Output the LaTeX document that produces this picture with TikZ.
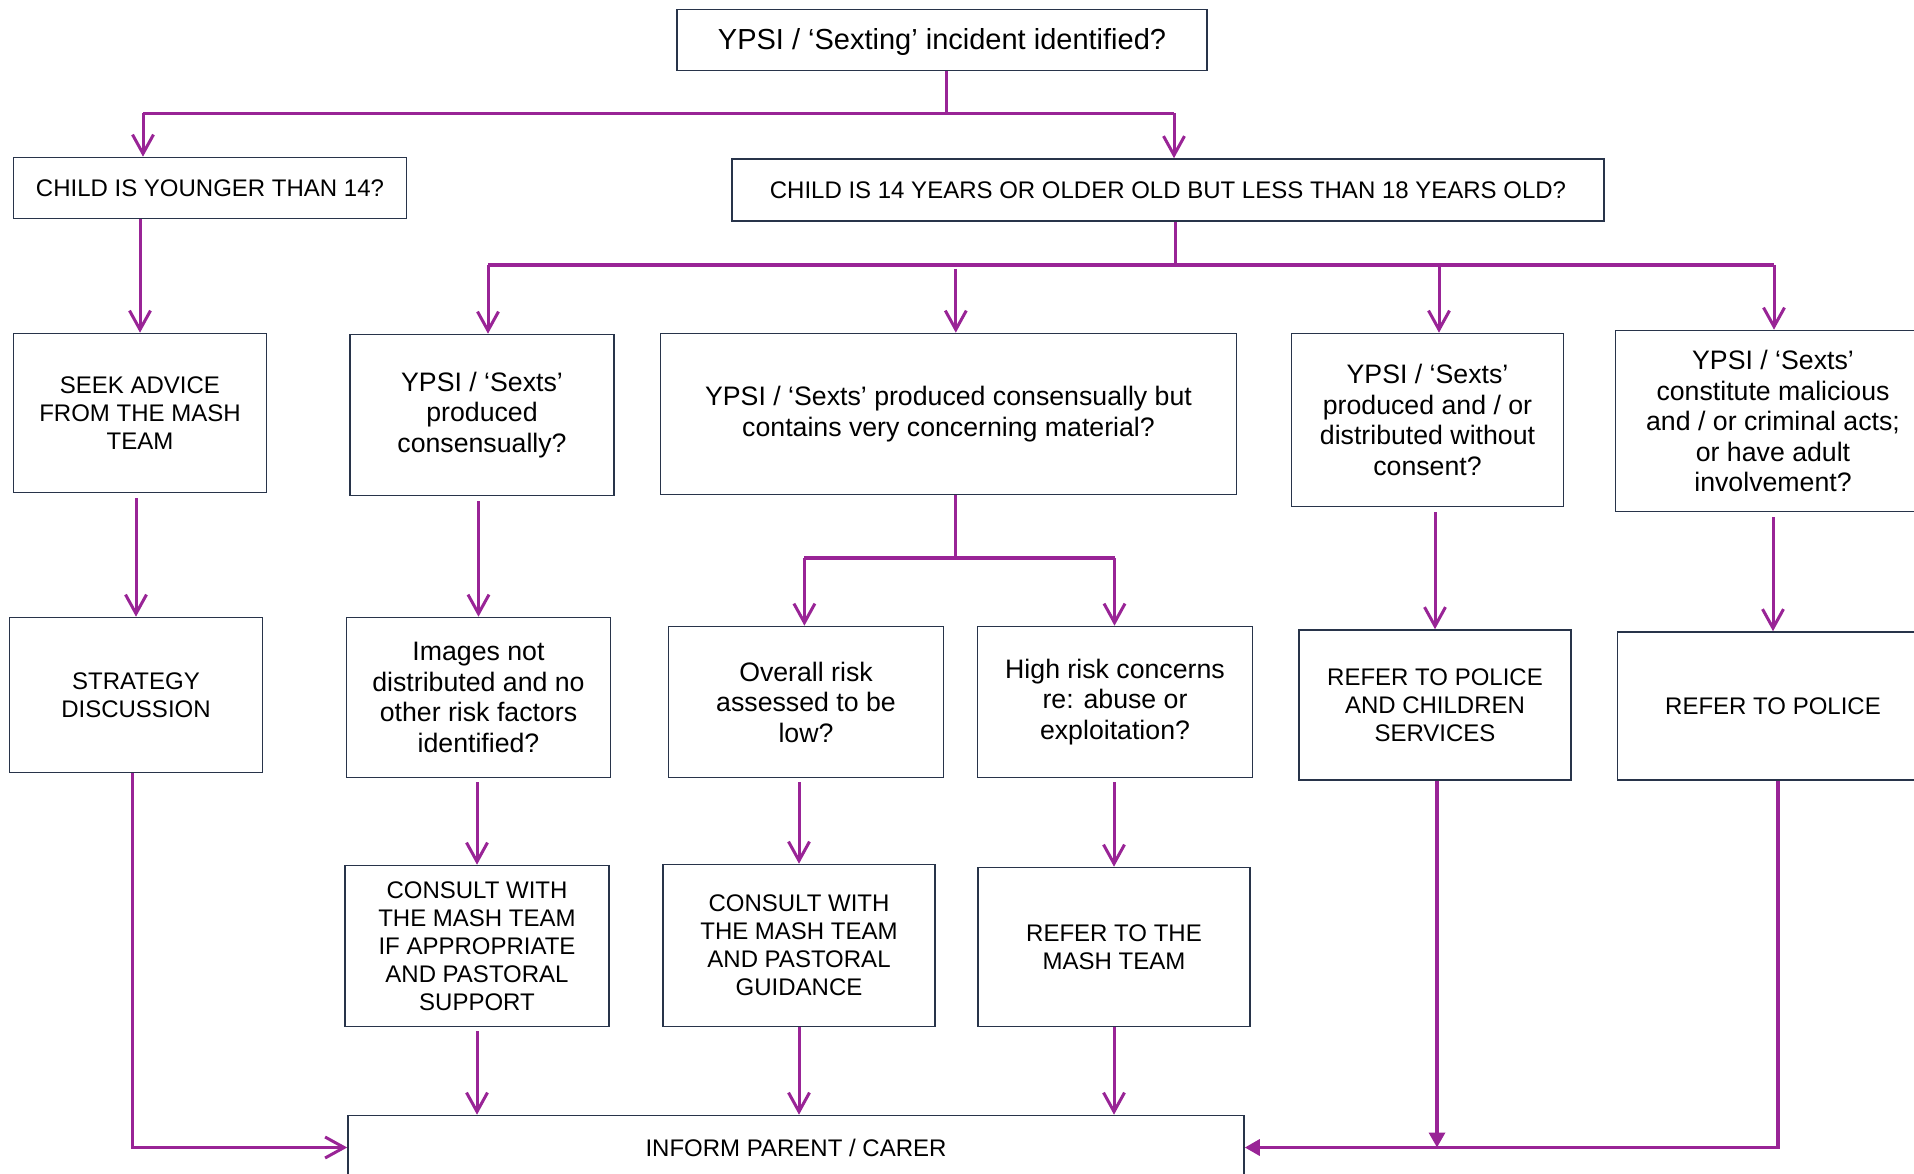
\documentclass[tikz,border=0pt]{standalone}
\usepackage{fontspec}
\setmainfont{Liberation Sans}
\usetikzlibrary{arrows.meta}
\definecolor{flowpurple}{RGB}{153,36,150}
\definecolor{boxedge}{RGB}{40,52,74}

\begin{document}
\begin{tikzpicture}[x=1pt,y=-1pt,
    box/.style={draw=boxedge, line width=1.6pt, align=center, inner sep=0pt,
      font=\fontsize{26.7}{30.5}\selectfont,
      execute at begin node={\rule{0pt}{26pt}}},
    capsbox/.style={draw=boxedge, line width=1.6pt, align=center, inner sep=0pt,
      font=\fontsize{24}{28}\selectfont},
    flow/.style={draw=flowpurple, line width=3pt, -{Straight Barb[length=19pt,width=21pt]}},
    feed/.style={draw=flowpurple, line width=3.4pt, -{Triangle[length=15pt,width=16pt]}},
    bar/.style={draw=flowpurple, line width=3.4pt},
    link/.style={draw=flowpurple, line width=3pt}]
    \clip (0,0) rectangle (1914,1174);

    \node[box, minimum width=530pt, minimum height=61pt, font=\fontsize{29}{33}\selectfont] (top) at (942,40) {YPSI / ‘Sexting’ incident identified?};
    \node[capsbox, minimum width=393pt, minimum height=61pt] (young) at (210,188) {CHILD IS YOUNGER THAN 14?};
    \node[capsbox, minimum width=872pt, minimum height=62pt] (older) at (1168,190) {CHILD IS 14 YEARS OR OLDER OLD BUT LESS THAN 18 YEARS OLD?};

    \node[capsbox, minimum width=253pt, minimum height=159pt] (seek) at (140,413) {SEEK ADVICE\\FROM THE MASH\\TEAM};
    \node[box, minimum width=264pt, minimum height=161pt] (cons) at (482,415) {YPSI / ‘Sexts’\\produced\\consensually?};
    \node[box, minimum width=576pt, minimum height=161pt] (conc) at (948.5,414) {YPSI / ‘Sexts’ produced consensually but\\contains very concerning material?};
    \node[box, minimum width=272pt, minimum height=173pt] (nocons) at (1427.5,420) {YPSI / ‘Sexts’\\produced and / or\\distributed without\\consent?};
    \node[box, minimum width=315pt, minimum height=181pt] (malic) at (1773,421) {YPSI / ‘Sexts’\\constitute malicious\\and / or criminal acts;\\or have adult\\involvement?};

    \node[capsbox, minimum width=253pt, minimum height=155pt] (strat) at (136,695) {STRATEGY\\DISCUSSION};
    \node[box, minimum width=264pt, minimum height=160pt] (images) at (478.5,697.5) {Images not\\distributed and no\\other risk factors\\identified?};
    \node[box, minimum width=275pt, minimum height=151pt] (low) at (806,702) {Overall risk\\assessed to be\\low?};
    \node[box, minimum width=275pt, minimum height=151pt] (high) at (1115,702) {High risk concerns\\re: abuse or\\exploitation?};
    \node[capsbox, minimum width=272pt, minimum height=150pt] (polcs) at (1435,705) {REFER TO POLICE\\AND CHILDREN\\SERVICES};
    \node[capsbox, minimum width=311pt, minimum height=148pt] (police) at (1773,706) {REFER TO POLICE};

    \node[capsbox, minimum width=264pt, minimum height=161pt] (consult) at (477,946) {CONSULT WITH\\THE MASH TEAM\\IF APPROPRIATE\\AND PASTORAL\\SUPPORT};
    \node[capsbox, minimum width=272pt, minimum height=162pt] (guide) at (799,945.5) {CONSULT WITH\\THE MASH TEAM\\AND PASTORAL\\GUIDANCE};
    \node[capsbox, minimum width=272pt, minimum height=159pt] (refmash) at (1114,947) {REFER TO THE\\MASH TEAM};
    \node[capsbox, minimum width=896pt, minimum height=64pt] (inform) at (796,1147.5) {INFORM PARENT / CARER};

    % split points
    \coordinate (s0) at (946,113.5);
    \coordinate (d1) at (143,113.5);
    \coordinate (d2) at (1174,113.5);
    \coordinate (s1) at (1175.5,265);
    \coordinate (e1) at (488,265);
    \coordinate (e2) at (955.8,265);
    \coordinate (e3) at (1439,265);
    \coordinate (e4) at (1774,265);
    \coordinate (s2) at (955.8,558);
    \coordinate (f1) at (804.4,558);
    \coordinate (f2) at (1114.5,558);

    \draw[link] (s0 |- top.south) -- (s0);
    \draw[bar] (d1) -- (d2);
    \draw[flow] (d1) -- (d1 |- young.north);
    \draw[flow] (d2) -- (d2 |- older.north);

    \draw[link] (s1 |- older.south) -- (s1);
    \draw[bar] (e1) -- (e4);
    \draw[flow] (e1) -- (e1 |- cons.north);
    \draw[flow, shorten <=4pt] (e2) -- (e2 |- conc.north);
    \draw[flow] (e3) -- (e3 |- nocons.north);
    \draw[flow] (e4) -- (e4 |- malic.north);

    \draw[flow] (seek.north |- young.south) -- (seek.north);
    \draw[flow, shorten <=5pt] (strat.north |- seek.south) -- (strat.north);
    \draw[flow, shorten <=5pt] (images.north |- cons.south) -- (images.north);
    \draw[link] (s2 |- conc.south) -- (s2);
    \draw[bar] (f1) -- (f2);
    \draw[flow] (f1) -- (f1 |- low.north);
    \draw[flow] (f2) -- (f2 |- high.north);
    \draw[flow, shorten <=5pt] (polcs.north |- nocons.south) -- (polcs.north);
    \draw[flow, shorten <=5pt] (police.north |- malic.south) -- (police.north);

    \draw[flow, shorten <=4pt] (consult.north |- images.south) -- (consult.north);
    \draw[flow, shorten <=4pt] (guide.north |- low.south) -- (guide.north);
    \draw[flow, shorten <=4pt] (refmash.north |- high.south) -- (refmash.north);

    \draw[flow, shorten <=4pt] (consult.south) -- (consult.south |- inform.north);
    \draw[flow] (guide.south) -- (guide.south |- inform.north);
    \draw[flow] (refmash.south) -- (refmash.south |- inform.north);
    \draw[flow] ([xshift=-4pt]strat.south) |- (inform.west);
    \draw[feed] ([xshift=5pt]police.south) |- (inform.east);
    \draw[feed] ([xshift=2pt]polcs.south) -- ([xshift=2pt]polcs.south |- inform.east);
\end{tikzpicture}
\end{document}
